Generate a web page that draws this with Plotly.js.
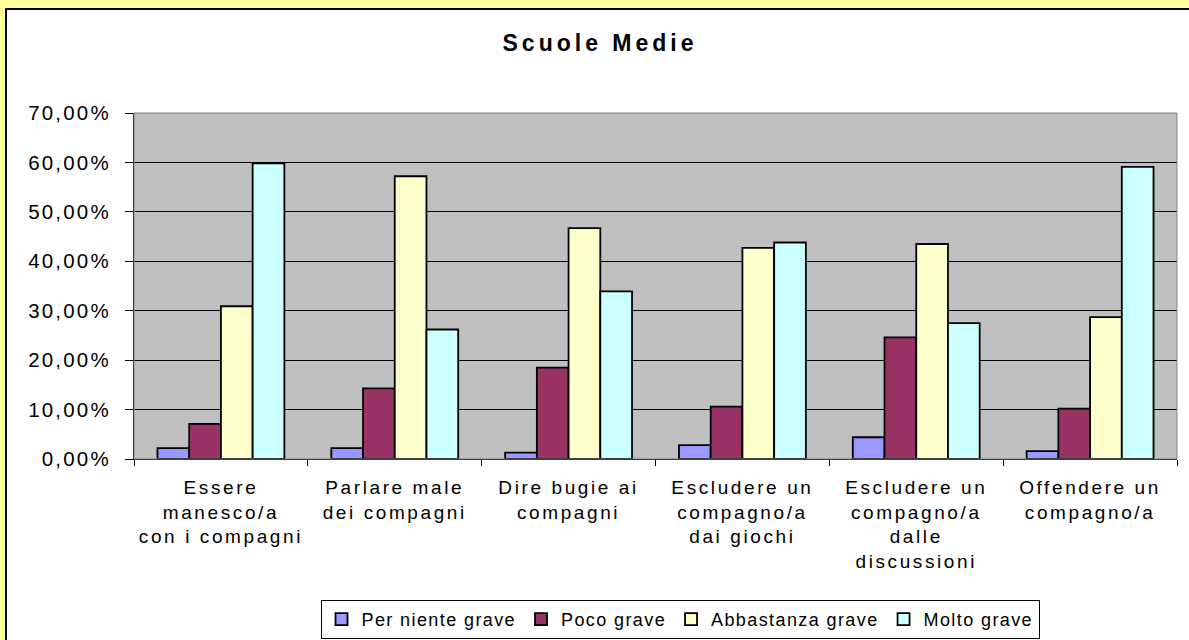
<!DOCTYPE html>
<html>
<head>
<meta charset="utf-8">
<script src="https://cdn.plot.ly/plotly-3.0.1.min.js"></script>
<style>
  html, body { margin: 0; padding: 0; background: #FFFF99; width: 1189px; height: 640px; overflow: hidden; }
  #frame {
    position: absolute; left: 5px; top: 8px;
    width: 1400px; height: 800px;
    border-left: 2px solid #000000; border-top: 2px solid #000000;
    background: #FFFFFF; overflow: hidden;
  }
  #chart { width: 1182px; height: 630px; }
  .xtick text { letter-spacing: 2.6px; }
  .ytick text { letter-spacing: 2.2px; }
  .gtitle { letter-spacing: 4px; }
  .legendtext { letter-spacing: 1.4px; }
</style>
</head>
<body>
<div id="frame"><div id="chart"></div></div>
<script>
const categories = [
  "Essere<br>manesco/a<br>con i compagni",
  "Parlare male<br>dei compagni",
  "Dire bugie ai<br>compagni",
  "Escludere un<br>compagno/a<br>dai giochi",
  "Escludere un<br>compagno/a<br>dalle<br>discussioni",
  "Offendere un<br>compagno/a"
];
const seriesNames = ["Per niente grave", "Poco grave", "Abbastanza grave", "Molto grave"];
const perNienteGrave  = [0.022, 0.022, 0.013, 0.028, 0.044, 0.016];
const pocoGrave       = [0.071, 0.143, 0.185, 0.106, 0.246, 0.102];
const abbastanzaGrave = [0.309, 0.572, 0.467, 0.427, 0.435, 0.287];
const moltoGrave      = [0.598, 0.262, 0.339, 0.438, 0.275, 0.591];
const seriesValues = [perNienteGrave, pocoGrave, abbastanzaGrave, moltoGrave];
const seriesColors = ["#9999FF", "#993366", "#FFFFCC", "#CCFFFF"];

const FONT = "Liberation Sans, Arial, sans-serif";

const traces = seriesValues.map((vals, i) => ({
  type: "bar",
  name: seriesNames[i],
  x: categories,
  y: vals,
  marker: { color: seriesColors[i], line: { color: "#000000", width: 1.8 } },
  hoverinfo: "x+y+name"
}));

const layout = {
  width: 1182,
  height: 630,
  paper_bgcolor: "#FFFFFF",
  plot_bgcolor: "#C0C0C0",
  margin: { l: 127, r: 12, t: 103, b: 181, pad: 0, autoexpand: false },
  separators: ",.",
  title: {
    text: "<b>Scuole Medie</b>",
    font: { family: FONT, size: 23, color: "#000000" },
    x: 0.5017, xanchor: "center", xref: "container",
    y: 0.9476, yanchor: "middle", yref: "container"
  },
  barmode: "group",
  bargap: 0.27,
  bargroupgap: 0,
  showlegend: true,
  legend: {
    orientation: "h",
    x: 0.5235, xanchor: "center",
    y: -0.4075, yanchor: "top",
    bgcolor: "#FFFFFF",
    bordercolor: "#000000",
    borderwidth: 1,
    font: { family: FONT, size: 18, color: "#000000" },
    traceorder: "normal"
  },
  xaxis: {
    type: "category",
    showline: true, linecolor: "#000000", linewidth: 1,
    ticks: "outside", tickson: "boundaries", ticklen: 6, tickcolor: "#000000",
    tickfont: { family: FONT, size: 19, color: "#000000" },
    ticklabelstandoff: 11,
    showgrid: false, zeroline: false, fixedrange: true,
    tickangle: 0
  },
  yaxis: {
    range: [0, 0.7],
    dtick: 0.1, tick0: 0,
    tickformat: ".2%",
    showline: true, linecolor: "#000000", linewidth: 1,
    ticks: "outside", ticklen: 8, tickcolor: "#000000",
    ticklabelstandoff: 10,
    tickfont: { family: FONT, size: 20.5, color: "#000000" },
    showgrid: true, gridcolor: "#000000", gridwidth: 1,
    zeroline: false, fixedrange: true
  },
  shapes: [
    {
      type: "rect", xref: "paper", yref: "paper", layer: "above",
      x0: 0, x1: 1, y0: 0, y1: 1,
      fillcolor: "rgba(0,0,0,0)", line: { color: "#808080", width: 1 }
    }
  ]
};

Plotly.newPlot("chart", traces, layout, { displayModeBar: false, staticPlot: true }).then(() => {
  document.querySelectorAll("#chart .ytick text, #chart g.ytick text").forEach(t => {
    t.style.letterSpacing = "2.2px";
  });
  document.querySelectorAll("#chart .xtick text").forEach(t => {
    t.style.letterSpacing = "2.6px";
  });
});
</script>
</body>
</html>
